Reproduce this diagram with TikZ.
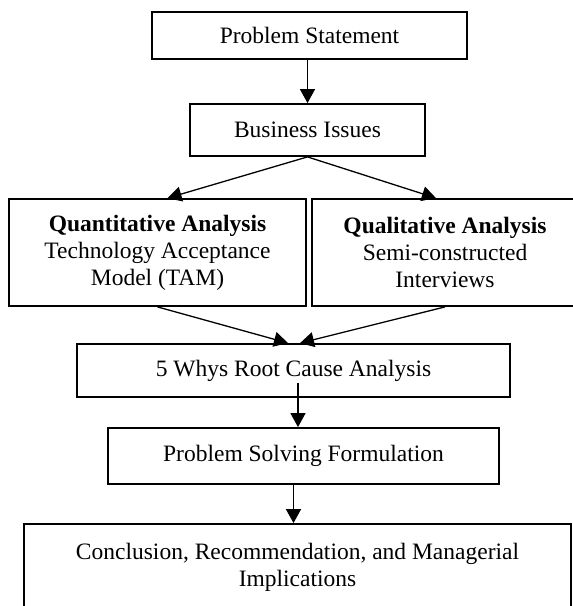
\documentclass[tikz,border=0pt]{standalone}
\usepackage{fontspec}
\setmainfont{Liberation Serif}
\usetikzlibrary{arrows.meta}
\tikzset{
	stage/.style={draw, line width=1.8pt, inner sep=0pt, align=center, font=\fontsize{23.5}{27}\selectfont},
	flow/.style={line width=1.3pt, -{Triangle[length=14pt, width=15pt]}}
}
\begin{document}
\begin{tikzpicture}[x=1pt, y=-1pt]
	\useasboundingbox (0,0) rectangle (573,606);
	\clip (0,0) rectangle (573,606);
	\node[stage, minimum width=315pt, minimum height=47pt] (problem) at (309.5,35.5) {Problem Statement};
	\node[stage, minimum width=235pt, minimum height=52pt] (issues) at (307.5,130) {Business Issues};
	\node[stage, minimum width=297pt, minimum height=107pt] (quant) at (157.5,252.5) {\textbf{Quantitative Analysis}\\Technology Acceptance\\Model (TAM)};
	\node[stage, minimum width=266pt, minimum height=107pt] (qual) at (445,252.5) {\textbf{Qualitative Analysis}\\Semi-constructed\\Interviews};
	\node[stage, minimum width=433pt, minimum height=53pt] (whys) at (293.5,370.5) {5 Whys Root Cause Analysis};
	\node[stage, minimum width=391pt, minimum height=56pt] (solving) at (303.5,456) {Problem Solving Formulation};
	\node[stage, minimum width=547pt, minimum height=86pt] (conclusion) at (297.5,567) {Conclusion, Recommendation, and Managerial\\Implications};
	\coordinate (whysout) at (298,383);
	\draw[flow] (issues.north |- problem.south) -- (issues.north);
	\draw[flow] (issues.south) -- ([xshift=10pt]quant.north);
	\draw[flow] (issues.south) -- ([xshift=-9pt]qual.north);
	\draw[flow] (quant.south) -- ([xshift=-5.5pt]whys.north);
	\draw[flow] (qual.south) -- ([xshift=6.5pt]whys.north);
	\draw[flow] (whysout) -- (whysout |- solving.north);
	\draw[flow] ([xshift=-10pt]solving.south) -- ([xshift=-4pt]conclusion.north);
\end{tikzpicture}
\end{document}
